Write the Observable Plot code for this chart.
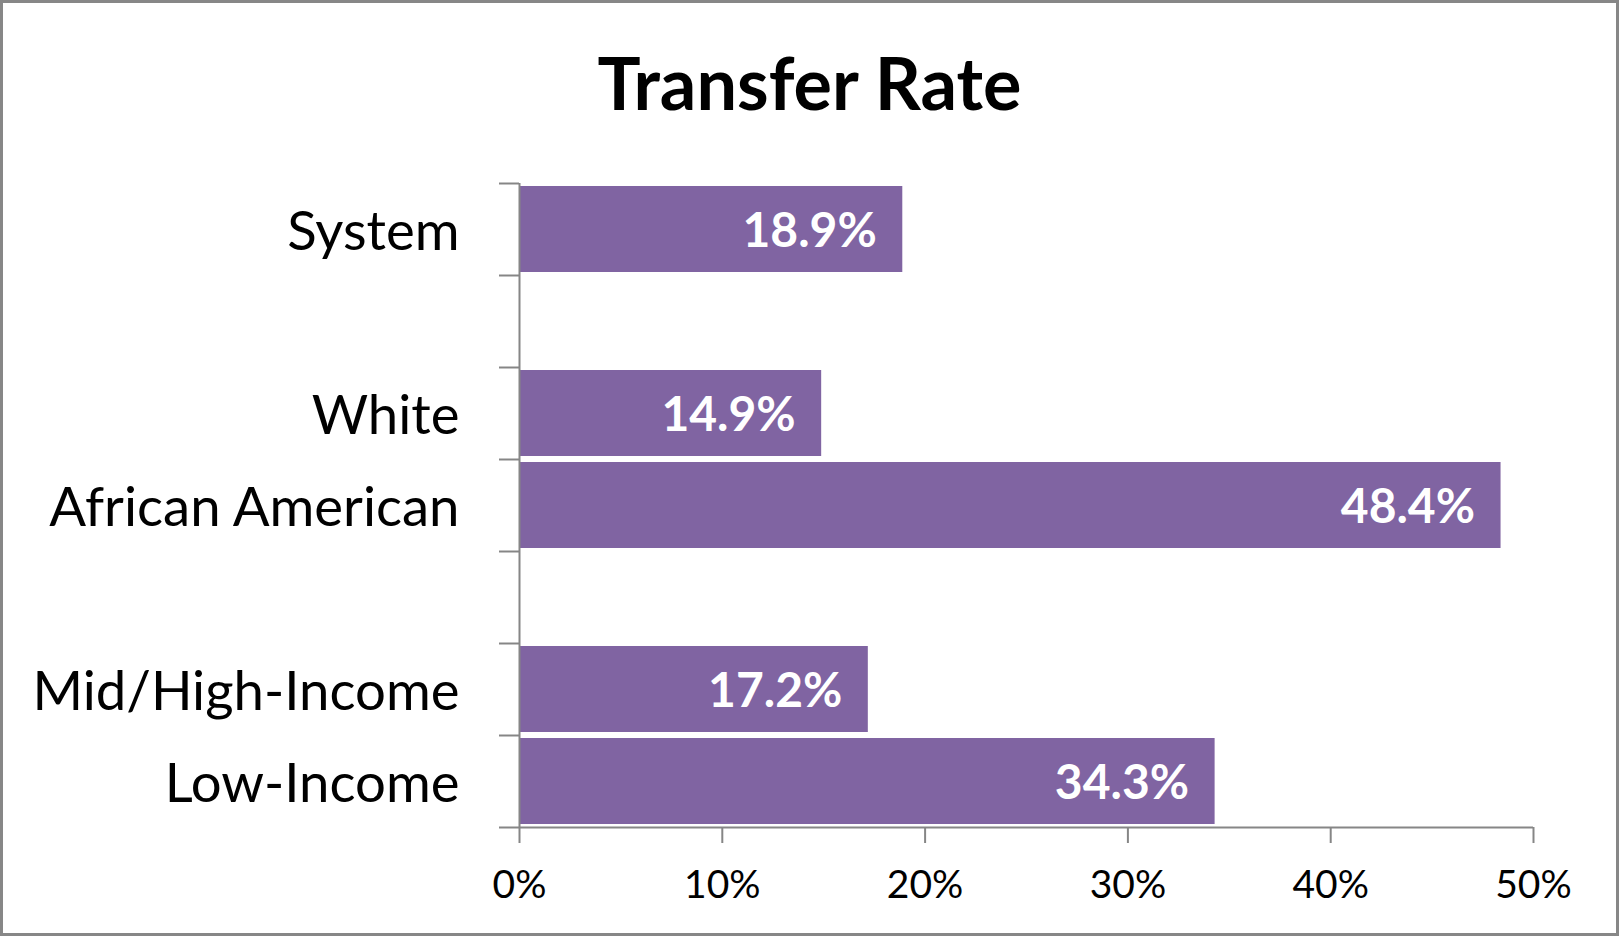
<!DOCTYPE html>
<html><head><meta charset="utf-8">
<script src="https://cdn.jsdelivr.net/npm/d3@7"></script>
<script src="https://cdn.jsdelivr.net/npm/@observablehq/plot@0.6"></script>
<style>
body{margin:0;background:#fff;}
#frame{position:absolute;left:0;top:0;width:1619px;height:936px;box-sizing:border-box;border:3px solid #878787;pointer-events:none;}
#title{position:absolute;left:0;top:46px;width:1619px;text-align:center;font:bold 72px Lato;line-height:72px;color:#000;}
#chart{position:absolute;left:0;top:150px;}
</style></head>
<body>
<div id="title">Transfer Rate</div>
<div id="chart"></div>
<div id="frame"></div>
<script>
const yOrder = ["System", "gap1", "White", "African American", "gap2", "Mid/High-Income", "Low-Income"];
const barLabels = ["System", "White", "African American", "Mid/High-Income", "Low-Income"];
const values = [18.9, 14.9, 48.4, 17.2, 34.3];
const xTicks = [0, 10, 20, 30, 40, 50];

const data = barLabels.map((label, i) => ({label, value: values[i]}));
const axisColor = "#868686";
const marginTop = 33, marginBottom = 103, H = 780;
const bw = (H - marginTop - marginBottom) / yOrder.length;

const chart = Plot.plot({
  width: 1619, height: H,
  marginLeft: 519, marginRight: 86, marginTop, marginBottom,
  style: {fontFamily: "Lato", color: "#000", background: "transparent"},
  x: {domain: [0, 50], label: null},
  y: {domain: yOrder, padding: 0, label: null},
  marks: [
    Plot.barX(data, {x: "value", y: "label", fill: "#8064A2", insetTop: 3, insetBottom: 3}),
    Plot.ruleX([0], {stroke: axisColor, strokeWidth: 2}),
    Plot.ruleY(yOrder, {y: d => d, dy: -bw / 2, x1: 0, x2: 0, insetLeft: -20, stroke: axisColor, strokeWidth: 2}),
    Plot.ruleY([yOrder[yOrder.length - 1]], {y: d => d, dy: bw / 2, x1: 0, x2: 50, insetLeft: -20, stroke: axisColor, strokeWidth: 2}),
    Plot.axisY({tickSize: 0, tickPadding: 60, fontSize: 54.5, dy: 3, label: null, tickFormat: d => d.startsWith("gap") ? "" : d}),
    Plot.axisX({ticks: xTicks, tickFormat: d => d + "%", tickSize: 16, tickPadding: 27, fontSize: 39, label: null, stroke: axisColor, strokeWidth: 2}),
    Plot.text(data, {x: "value", y: "label", text: d => d.value.toFixed(1) + "%", textAnchor: "end", dx: -26, dy: 2, fill: "white", fontWeight: "bold", fontSize: 48})
  ]
});
document.getElementById("chart").append(chart);
</script>
</body></html>
